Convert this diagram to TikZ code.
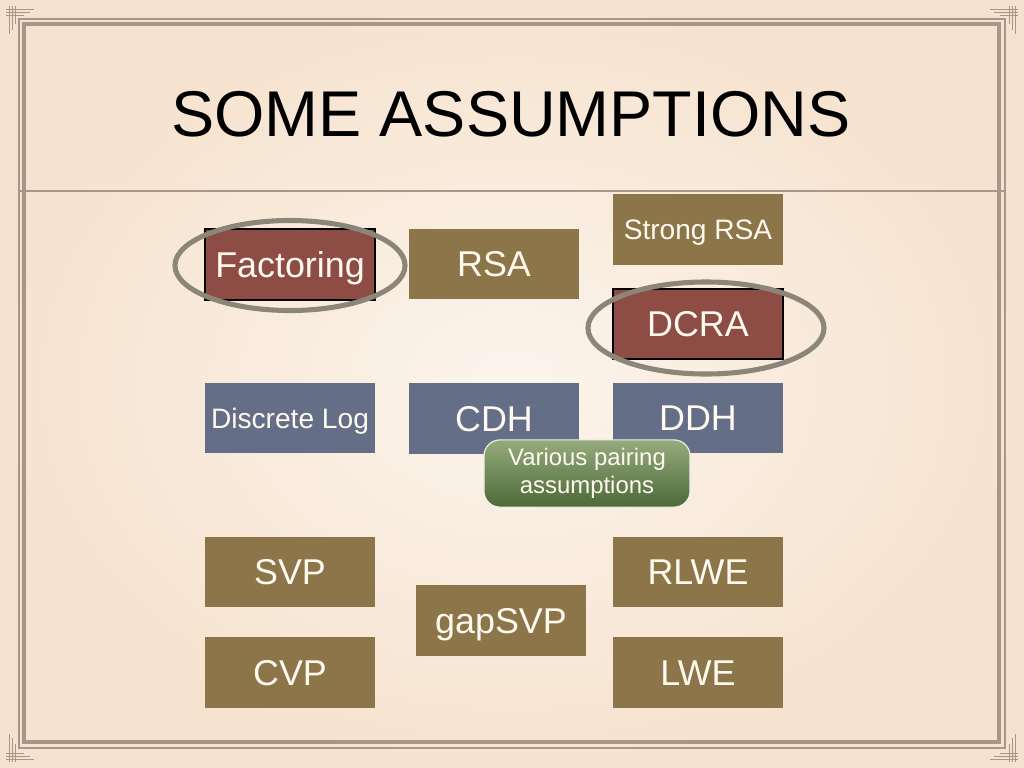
\documentclass[tikz,border=0pt]{standalone}
\usepackage{fontspec}
\setmainfont{Liberation Sans}

\definecolor{paper}{HTML}{FCF4EC}
\definecolor{paperdark}{HTML}{F6E3CF}
\definecolor{framec}{HTML}{A8968B}
\definecolor{rustc}{HTML}{8E4D44}
\definecolor{ochrec}{HTML}{8C7549}
\definecolor{slatec}{HTML}{646E87}
\definecolor{ringc}{HTML}{8B8678}
\definecolor{greentop}{HTML}{96AB7D}
\definecolor{greenbot}{HTML}{4C6937}
\definecolor{textc}{HTML}{FFF9F0}

\tikzset{
	box/.style={minimum width=4.25cm, minimum height=1.76cm, inner sep=0pt, text=textc,
		text height=17.9pt, text depth=0pt, font=\fontsize{25.5}{30}\selectfont},
	ochre/.style={box, fill=ochrec},
	slate/.style={box, fill=slatec},
	rust/.style={box, fill=rustc, draw=black, line width=1.4pt},
	small/.style={text height=14.3pt, font=\fontsize{20}{24}\selectfont},
	ring/.style={draw=ringc, line width=3.6pt},
	pairing/.style={rounded corners=0.4cm, top color=greentop, bottom color=greenbot,
		draw=white!85!greentop, line width=0.8pt, minimum width=5.15cm, minimum height=1.68cm,
		inner sep=0pt, text=textc, align=center, font=\fontsize{17}{19.5}\selectfont}
}

\begin{document}
\begin{tikzpicture}[x=0.025cm, y=-0.025cm]
	\useasboundingbox (0,0) rectangle (1024,768);
	\shade[inner color=paper, outer color=paperdark] (0,0) rectangle (1024,768);

	% frame
	\draw[framec, line width=1.2pt] (19,19) rectangle (1005,748);
	\draw[framec, line width=2.2pt] (24,24) rectangle (999,742);
	\draw[framec, line width=1.6pt] (20,191) -- (1004,191);
	\foreach \cx/\cy/\sx/\sy in {0/0/1/1, 1024/0/-1/1, 0/768/1/-1, 1024/768/-1/-1}{
		\begin{scope}[shift={(\cx,\cy)}, xscale=\sx, yscale=\sy]
			\draw[framec, line width=0.6pt] (9,6) -- (9,34) (12,6) -- (12,30) (15,6) -- (15,24)
				(6,9) -- (34,9) (6,12) -- (30,12) (6,15) -- (24,15);
		\end{scope}
	}

	\node (title) at (511,114) {\fontsize{46}{50}\selectfont SOME ASSUMPTIONS};

	% factoring family
	\node (fact)[rust] at (290,264.5) {Factoring};
	\node (rsa)[ochre] at (494,264) {RSA};
	\node (strong)[ochre, small] at (698,229.5) {Strong RSA};
	\node (dcra)[rust] at (698,324) {DCRA};

	% discrete log family
	\node (dlog)[slate, small] at (290,418) {Discrete Log};
	\node (cdh)[slate] at (494,418.5) {CDH};
	\node (ddh)[slate] at (698,418) {DDH};
	\node (pair)[pairing] at (587,473.5) {Various pairing\\assumptions};

	% lattices
	\node (svp)[ochre] at (290,572) {SVP};
	\node (rlwe)[ochre] at (698,572) {RLWE};
	\node (gapsvp)[ochre] at (501,620.5) {gapSVP};
	\node (cvp)[ochre] at (290,672.5) {CVP};
	\node (lwe)[ochre] at (698,672.5) {LWE};

	\draw[ring] ([shift={(0,1)}]fact.center) ellipse [x radius=2.875cm, y radius=1.125cm];
	\draw[ring] ([shift={(8,4)}]dcra.center) ellipse [x radius=2.95cm, y radius=1.15cm];
\end{tikzpicture}
\end{document}
